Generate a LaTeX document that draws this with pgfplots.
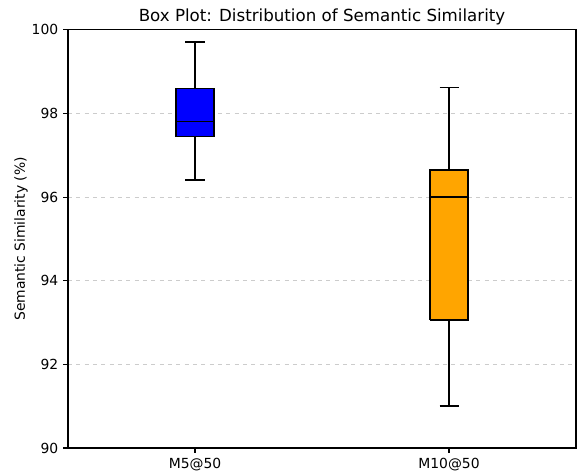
\documentclass[border=0pt]{standalone}
\usepackage{fontspec}
\setmainfont{DejaVu Sans}
\usepackage{pgfplots}
\pgfplotsset{compat=1.18}
\definecolor{mplorange}{HTML}{FFA500}

\begin{document}
\begin{tikzpicture}
\begin{axis}[
    name=main,
    scale only axis,
    width=365.8pt, height=301pt,
    xmin=0.5, xmax=2.5,
    ymin=90, ymax=100,
    xtick={1,2},
    xticklabels={M5@50, M10@50},
    ytick={90,92,94,96,98,100},
    /pgf/number format/assume math mode=true,
    tick label style={font=\fontsize{10}{12}\selectfont},
    ylabel={Semantic Similarity (\%)},
    ylabel style={font=\fontsize{10}{12}\selectfont},
    ylabel shift=-4pt,
    title={Box Plot: Distribution of Semantic Similarity},
    title style={font=\fontsize{12}{14}\selectfont, yshift=-6pt},
    tick align=outside,
    major tick length=3.5pt,
    xtick pos=bottom, ytick pos=left,
    axis line style={line width=0.8pt},
    every tick/.style={black, line width=0.8pt},
    ymajorgrids=true,
    grid style={dashed, gray!40, line width=0.7pt},
    every axis plot/.append style={line width=1pt, mark=none},
]
% whiskers and caps
\addplot[black] coordinates {(1,96.41)(1,97.45)};
\addplot[black] coordinates {(1,98.60)(1,99.71)};
\addplot[black] coordinates {(0.9625,96.41)(1.0375,96.41)};
\addplot[black] coordinates {(0.9625,99.71)(1.0375,99.71)};
\addplot[black] coordinates {(2,91.00)(2,93.06)};
\addplot[black] coordinates {(2,96.65)(2,98.62)};
\addplot[black] coordinates {(1.9625,91.00)(2.0375,91.00)};
\addplot[black] coordinates {(1.9625,98.62)(2.0375,98.62)};
% boxes: M5@50 97.45 - 98.60, M10@50 93.06 - 96.65
\addplot[draw=black, fill=blue] coordinates {(0.925,97.45)(1.075,97.45)(1.075,98.60)(0.925,98.60)(0.925,97.45)};
\addplot[draw=black, fill=mplorange] coordinates {(1.925,93.06)(2.075,93.06)(2.075,96.65)(1.925,96.65)(1.925,93.06)};
% medians: 97.81 and 96.01
\addplot[draw=black, line width=1.3pt] coordinates {(0.925,97.81)(1.075,97.81)};
\addplot[draw=black, line width=1.3pt] coordinates {(1.925,96.01)(2.075,96.01)};
\end{axis}
\useasboundingbox ([xshift=-48.96pt, yshift=-17.28pt]main.south west)
    rectangle ([xshift=367.2pt, yshift=322.56pt]main.south west);
\end{tikzpicture}
\end{document}
